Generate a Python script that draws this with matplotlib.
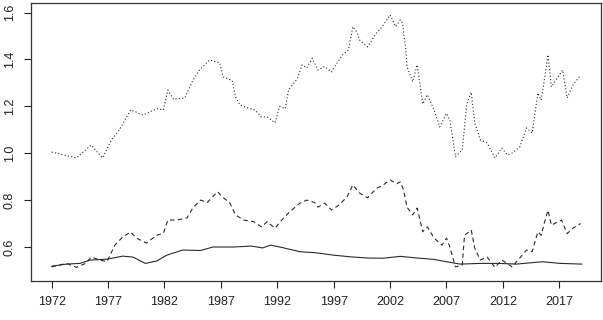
import matplotlib
matplotlib.use("Agg")
import matplotlib.pyplot as plt

# Top series (dotted)
top_x = [1972.0, 1974.2, 1975.5, 1976.5, 1977.3, 1978.0, 1979.0, 1980.1, 1981.3, 1981.9,
         1982.3, 1982.8, 1983.8, 1984.5, 1985.1, 1986.0, 1986.9, 1987.2, 1988.0, 1988.3,
         1988.7, 1989.4, 1990.0, 1990.6, 1991.1, 1991.8, 1992.2, 1992.7, 1993.0, 1993.8,
         1994.2, 1994.6, 1995.1, 1995.6, 1996.2, 1996.8, 1997.3, 1997.8, 1998.3, 1998.7,
         1999.1, 1999.3, 2000.0, 2000.8, 2001.3, 2002.0, 2002.5, 2002.9, 2003.1, 2003.4,
         2003.5, 2004.0, 2004.4, 2004.9, 2005.3, 2005.9, 2006.4, 2007.0, 2007.3, 2007.8,
         2008.4, 2008.8, 2009.2, 2009.5, 2010.0, 2010.6, 2011.3, 2011.9, 2012.4, 2012.8,
         2013.5, 2014.1, 2014.6, 2015.1, 2015.4, 2015.7, 2016.0, 2016.3, 2016.9, 2017.3,
         2017.7, 2018.2, 2018.9]
top_y = [1.005, 0.98, 1.035, 0.98, 1.057, 1.10, 1.185, 1.163, 1.19, 1.185,
         1.27, 1.23, 1.236, 1.31, 1.355, 1.398, 1.385, 1.326, 1.31, 1.24,
         1.206, 1.193, 1.185, 1.155, 1.155, 1.13, 1.20, 1.19, 1.27, 1.32,
         1.377, 1.364, 1.405, 1.355, 1.37, 1.347, 1.385, 1.42, 1.44, 1.54,
         1.513, 1.483, 1.454, 1.513, 1.54, 1.59, 1.54, 1.569, 1.556, 1.44,
         1.37, 1.305, 1.377, 1.21, 1.25, 1.185, 1.112, 1.17, 1.142, 0.985,
         1.014, 1.21, 1.26, 1.13, 1.057, 1.044, 0.98, 1.022, 0.993, 1.0,
         1.027, 1.108, 1.086, 1.257, 1.227, 1.32, 1.42, 1.283, 1.326, 1.355,
         1.236, 1.29, 1.334]

# Middle series (dashed)
mid_x = [1972.0, 1973.3, 1974.2, 1975.0, 1975.5, 1976.3, 1976.9, 1977.6, 1978.3, 1979.0,
         1979.5, 1980.4, 1981.3, 1981.9, 1982.3, 1983.1, 1984.0, 1984.5, 1985.2, 1985.8,
         1986.7, 1987.1, 1987.8, 1988.3, 1989.0, 1989.9, 1990.6, 1991.1, 1991.8, 1992.4,
         1993.1, 1994.0, 1994.6, 1995.3, 1995.6, 1996.2, 1996.8, 1997.5, 1998.2, 1998.7,
         1999.3, 2000.0, 2000.8, 2001.4, 2002.0, 2002.6, 2002.9, 2003.2, 2003.5, 2004.0,
         2004.4, 2004.9, 2005.3, 2005.9, 2006.6, 2007.0, 2007.3, 2007.8, 2008.4, 2008.6,
         2009.2, 2009.5, 2010.0, 2010.6, 2011.3, 2011.9, 2012.4, 2012.8, 2013.5, 2014.1,
         2014.6, 2015.1, 2015.4, 2015.7, 2016.0, 2016.3, 2017.2, 2017.7, 2018.2, 2018.9]
mid_y = [0.515, 0.53, 0.513, 0.53, 0.557, 0.544, 0.537, 0.608, 0.643, 0.664,
         0.638, 0.617, 0.65, 0.658, 0.715, 0.715, 0.724, 0.766, 0.80, 0.79,
         0.836, 0.815, 0.787, 0.737, 0.715, 0.708, 0.686, 0.708, 0.68, 0.715,
         0.75, 0.787, 0.80, 0.79, 0.77, 0.787, 0.758, 0.78, 0.815, 0.865,
         0.83, 0.81, 0.85, 0.865, 0.886, 0.87, 0.878, 0.843, 0.77, 0.737,
         0.766, 0.665, 0.686, 0.638, 0.608, 0.638, 0.60, 0.515, 0.523, 0.65,
         0.672, 0.596, 0.544, 0.557, 0.513, 0.544, 0.53, 0.515, 0.553, 0.587,
         0.58, 0.665, 0.65, 0.707, 0.757, 0.693, 0.715, 0.657, 0.68, 0.70]

# Bottom series (solid)
low_x = [1972.0, 1973.3, 1974.5, 1975.4, 1976.9, 1978.3, 1979.2, 1980.3, 1981.3, 1982.2,
         1983.6, 1985.2, 1986.3, 1988.1, 1989.7, 1990.7, 1991.4, 1992.5, 1994.0, 1995.5,
         1997.0, 1998.5, 2000.0, 2001.4, 2002.9, 2004.4, 2005.9, 2007.0, 2008.2, 2010.0,
         2011.7, 2013.2, 2015.5, 2017.1, 2019.0]
low_y = [0.518, 0.527, 0.53, 0.544, 0.548, 0.561, 0.557, 0.53, 0.54, 0.565,
         0.587, 0.585, 0.60, 0.60, 0.604, 0.596, 0.608, 0.597, 0.58, 0.575,
         0.565, 0.558, 0.553, 0.552, 0.56, 0.553, 0.547, 0.537, 0.527, 0.53,
         0.53, 0.527, 0.537, 0.53, 0.527]

x_ticks = [1972, 1977, 1982, 1987, 1992, 1997, 2002, 2007, 2012, 2017]
y_ticks = [0.6, 0.8, 1.0, 1.2, 1.4, 1.6]

plt.rcParams['font.family'] = ['Liberation Sans', 'DejaVu Sans']

fig = plt.figure(figsize=(6.03, 3.2), dpi=100)
ax = fig.add_axes([31/603, 1 - 281/320, 570/603, 278/320])

lc = '#2a2a2a'
ax.plot(top_x, top_y, color=lc, lw=0.8, linestyle=(0, (1, 2)))
ax.plot(mid_x, mid_y, color=lc, lw=0.8, linestyle=(0, (4, 3)))
ax.plot(low_x, low_y, color=lc, lw=0.8, linestyle='-')

ax.set_xlim(1970.165, 2020.70)
ax.set_ylim(0.4549, 1.641)
ax.set_xticks(x_ticks)
ax.set_xticklabels([str(t) for t in x_ticks])
ax.set_yticks(y_ticks)
ax.set_yticklabels([f"{t:.1f}" for t in y_ticks], rotation=90, va='center')

ax.tick_params(axis='both', direction='out', length=5, width=0.8, colors='#222222',
               labelsize=9, pad=6)
for s in ax.spines.values():
    s.set_color('#333333')
    s.set_linewidth(0.9)

fig.savefig('out.png', dpi=100)
